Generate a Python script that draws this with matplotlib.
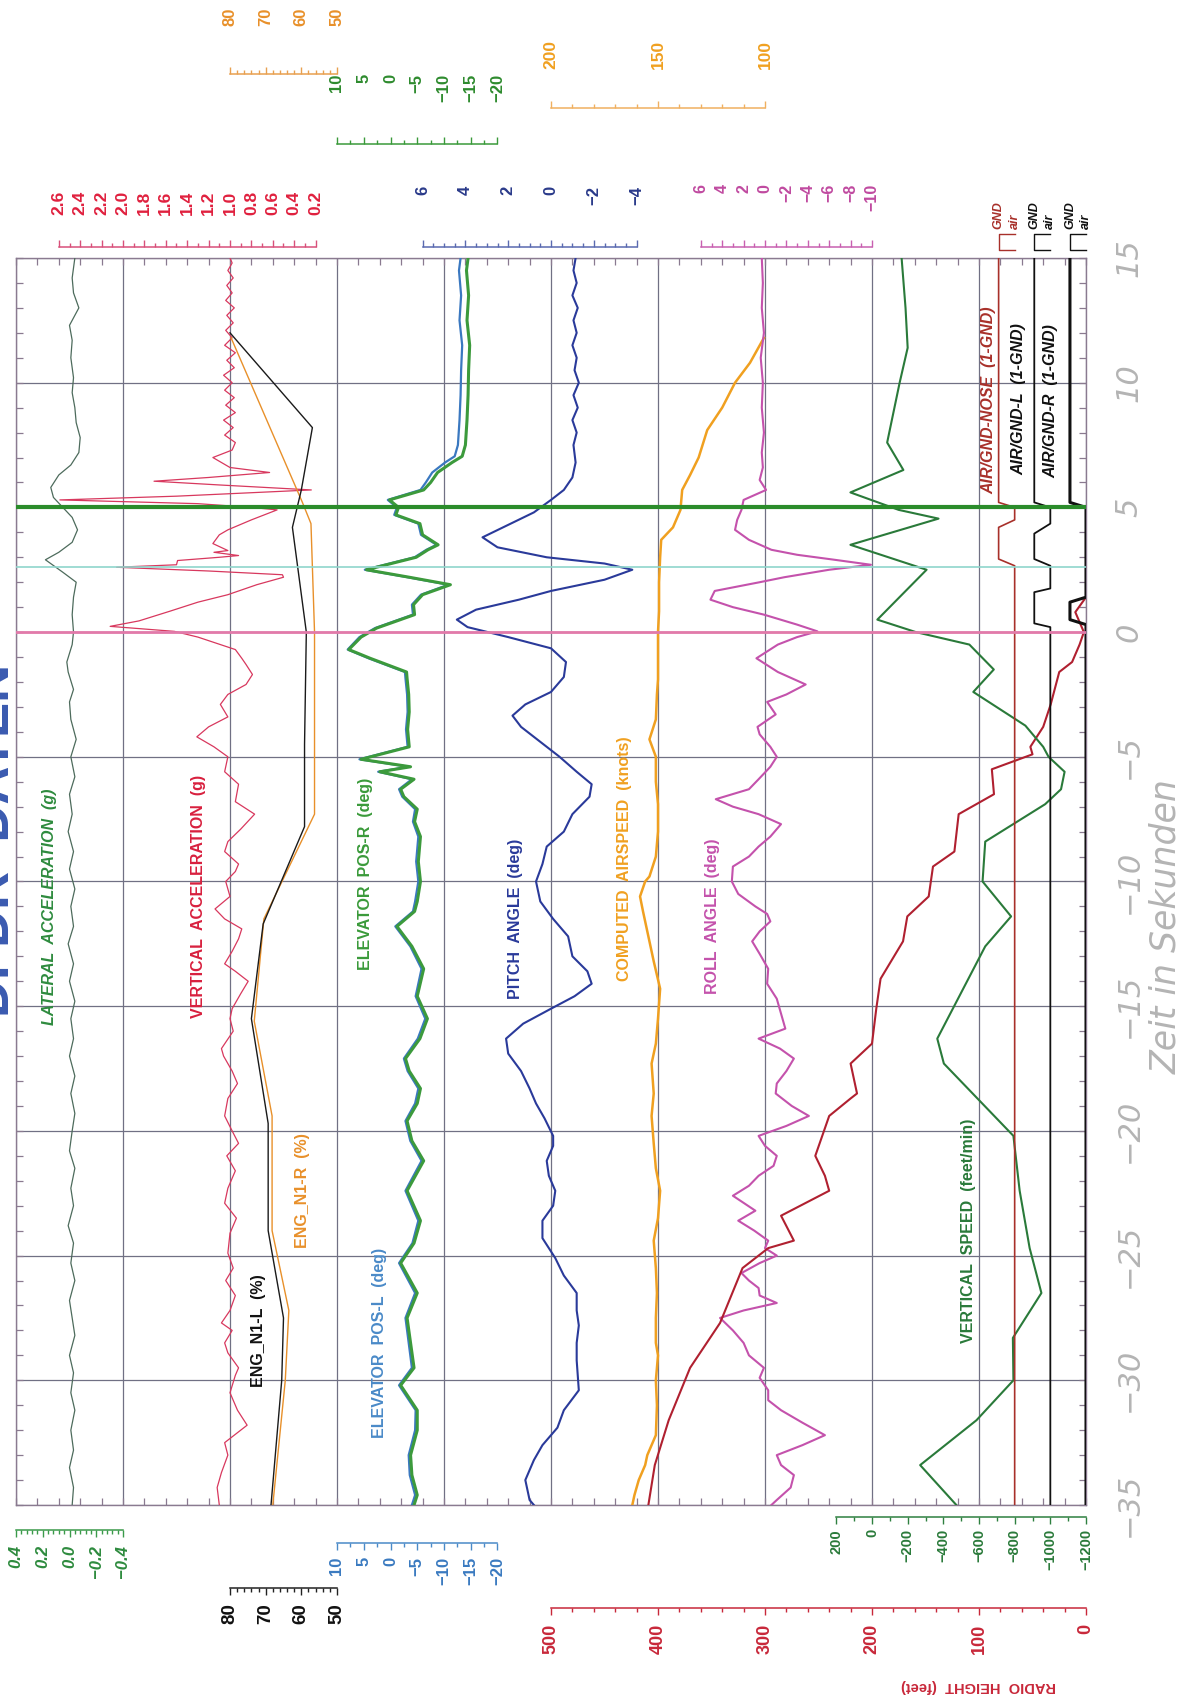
import numpy as np
import matplotlib.pyplot as plt
from matplotlib import transforms

# ---- recorded channels (time in seconds, 0 = touchdown) ----
lat_t = [-35, -34.3, -33.5, -32.8, -32, -31.2, -30.5, -29.7, -29, -28.2, -27.5, -26.8, -26, -25.3, -24.5,
         -23.8, -23, -22.3, -21.5, -20.8, -20, -19.3, -18.5, -17.8, -17, -16.3, -15.5, -14.8, -14, -13.3,
         -12.5, -11.8, -11, -10.3, -9.5, -8.8, -8, -7.3, -6.5, -5.8, -5, -4.3, -3.5, -2.8, -2.3, -1.6, -1.2,
         -0.5, 0, 0.7, 1.4, 2.0, 2.4, 2.9, 3.2, 3.6, 4.1, 4.6, 5.0, 5.4, 5.8, 6.3, 6.7, 7.2, 7.8, 8.4, 9.0,
         9.6, 10.2, 11, 11.7, 12.3, 13, 13.6, 14.2, 15]
lat_g = [-0.02, -0.03, 0.0, -0.03, -0.01, -0.04, -0.01, -0.03, 0.0, -0.04, -0.02, 0.0, -0.04, -0.01, -0.03,
         0.01, -0.03, -0.01, -0.04, 0.0, -0.02, -0.04, -0.01, -0.04, 0.0, -0.03, -0.01, -0.04, 0.0, -0.03,
         0.01, -0.03, -0.01, -0.04, 0.0, -0.03, 0.01, -0.02, 0.0, -0.04, -0.01, -0.05, -0.01, 0.0, -0.03,
         0.01, 0.02, -0.02, -0.03, -0.02, -0.03, -0.05, 0.05, 0.18, 0.08, -0.02, -0.06, -0.02, 0.05, 0.12,
         0.14, 0.08, -0.01, -0.07, -0.08, -0.05, -0.04, -0.02, -0.03, -0.01, -0.02, 0.0, -0.07, -0.03, -0.02,
         -0.04]

va_t = [-35, -34.3, -33.7, -33, -32.5, -31.8, -31.2, -30.5, -29.8, -29.5, -28.9, -28.5, -28, -27.7, -27.2,
        -26.6, -26, -25.5, -24.9, -24.1, -23.5, -22.9, -22.3, -21.6, -21, -20.5, -20, -19.4, -18.7, -18.1,
        -17.6, -17, -16.7, -16, -15.5, -15.1, -14.5, -14, -13.6, -13.3, -12.8, -12.3, -11.9, -11.5, -11.1,
        -10.6, -10, -9.6, -9.3, -8.8, -8.4, -7.9, -7.3, -6.8, -6.1, -5.6, -5, -4.6, -4.2, -3.8, -3.4, -2.9,
        -2.5, -2.1, -1.7, -1.3, -1.05, -0.7, -0.5, -0.2, 0.03, 0.23, 0.45, 0.84, 1.2, 1.5, 1.9, 2.2, 2.3,
        2.45, 2.6, 2.7, 2.87, 3.0, 3.07, 3.2, 3.27, 3.55, 3.9, 4.1, 4.5, 4.9, 5.0, 5.15, 5.3, 5.45, 5.7, 5.9,
        6.05, 6.2, 6.4, 6.6, 7.0, 7.3, 7.6, 7.9, 8.2, 8.5, 8.8, 9.1, 9.4, 9.7, 10, 10.3, 10.6, 10.9, 11.2,
        11.5, 11.8, 12.1, 12.4, 12.7, 13, 13.3, 13.6, 13.9, 14.2, 14.5, 14.8, 15]
va_g = [1.10, 1.12, 1.08, 1.02, 1.05, 0.84, 0.93, 1.00, 0.95, 0.92, 1.02, 1.05, 0.98, 1.08, 1.00, 0.95,
        1.04, 0.97, 1.02, 1.00, 0.94, 1.05, 1.02, 0.95, 1.03, 0.92, 0.98, 1.05, 1.02, 0.93, 0.98, 1.06,
        1.08, 0.97, 1.00, 0.98, 0.90, 0.83, 0.95, 1.05, 0.98, 0.92, 0.89, 1.05, 1.14, 1.00, 1.04, 0.95,
        0.92, 1.05, 1.02, 0.90, 0.77, 0.95, 0.92, 1.05, 1.02, 1.15, 1.31, 1.20, 1.02, 1.09, 1.02, 0.85,
        0.79, 0.85, 0.89, 0.95, 1.09, 1.30, 1.52, 2.12, 1.85, 1.56, 1.30, 1.02, 0.75, 0.50, 0.51, 1.20,
        2.06, 1.50, 1.49, 1.10, 0.92, 1.15, 1.02, 1.16, 1.10, 1.02, 0.80, 0.56, 0.80, 1.30, 2.59, 1.50,
        0.24, 1.10, 1.71, 1.20, 0.63, 1.00, 1.16, 0.98, 0.95, 1.05, 0.97, 1.06, 0.95, 1.04, 0.96, 1.05,
        0.98, 1.06, 0.96, 1.03, 0.95, 1.05, 0.98, 1.04, 0.97, 1.03, 0.96, 1.04, 0.98, 1.03, 0.97, 1.02,
        0.98, 1.00]

n1l_t = [-35, -30, -27.5, -24, -19.7, -15.5, -11.7, -7.8, -4.5, 0, 4.2, 5.7, 8.2, 12.0]
n1l = [68.5, 65.5, 65.0, 69.3, 69.3, 74.0, 70.7, 59.1, 59.1, 58.6, 62.5, 60.0, 56.9, 80.0]
n1r_t = [-35, -30, -27.2, -24, -19.4, -15.6, -11.5, -7.3, -2.5, 0, 4.35, 5.2, 11.8]
n1r = [68.0, 64.5, 63.5, 68.2, 68.2, 73.2, 70.5, 56.3, 56.3, 56.3, 57.3, 59.7, 79.7]

el_t = [-35, -34.6, -33.8, -33, -32, -31.2, -30.2, -29.5, -28.5, -27.5, -26.5, -25.3, -24.5, -23.6, -22.4,
        -21.2, -20.4, -19.6, -18.9, -18.3, -17.6, -17.1, -16.3, -15.5, -14.6, -13.5, -12.6, -11.8, -11.2,
        -10.8, -10.0, -9.2, -8.2, -7.6, -7.1, -6.6, -6.3, -5.9, -5.6, -5.4, -5.1, -4.6, -3.9, -3.2, -2.5,
        -1.86, -1.6, -1.05, -0.7, -0.2, 0.16, 0.7, 1.1, 1.5, 1.9, 2.2, 2.5, 3.0, 3.3, 3.5, 3.9, 4.35, 4.7,
        5.0, 5.3, 5.7, 6.0, 6.4, 6.8, 7.05, 7.5, 8.5, 9.5, 10.5, 11.5, 12.5, 13.5, 14.5, 15]
el_r = [-4.4, -5.0, -4.0, -3.75, -5.0, -5.0, -1.9, -4.4, -3.75, -3.1, -5.0, -1.9, -4.4, -5.6, -3.1, -6.2,
        -4.0, -3.1, -5.0, -5.6, -3.5, -2.8, -5.5, -6.9, -5.0, -6.2, -4.0, -1.2, -4.5, -5.0, -5.6, -5.2,
        -5.6, -4.5, -5.0, -2.5, -1.9, -4.4, 2.0, -3.75, 5.5, -3.5, -3.2, -3.5, -3.4, -3.1, -3.0, 3.8, 7.8,
        5.5, 2.6, -4.5, -4.3, -6.0, -11.2, -3.5, 4.5, -4.8, -7.0, -8.9, -6.0, -5.5, -1.0, -1.5, 0.2, -6.2,
        -7.5, -8.8, -11.5, -13.4, -14.0, -14.3, -14.5, -14.6, -14.8, -14.3, -14.6, -14.2, -14.5]
el_l = [-4.0, -4.6, -3.6, -3.4, -4.6, -4.7, -1.6, -4.0, -3.4, -2.8, -4.6, -1.6, -4.1, -5.2, -2.8, -5.8,
        -3.7, -2.8, -4.6, -5.2, -3.2, -2.5, -5.1, -6.5, -4.7, -5.8, -3.7, -0.9, -4.2, -4.6, -5.2, -4.8,
        -5.2, -4.2, -4.6, -2.2, -1.6, -4.0, 2.3, -3.4, 5.8, -3.2, -2.9, -3.2, -3.1, -2.8, -2.7, 4.1, 8.0,
        5.8, 2.9, -4.2, -4.0, -5.7, -10.8, -3.2, 4.8, -4.5, -6.7, -8.6, -5.7, -5.2, -0.7, -1.2, 0.5, -5.6,
        -6.6, -7.8, -10.2, -12.0, -12.6, -12.9, -13.1, -13.2, -13.4, -12.9, -13.2, -12.8, -13.1]

p_t = [-35, -34.8, -34, -33.2, -32.6, -31.9, -31.2, -30.4, -29.2, -28.5, -27.8, -27.2, -26.5, -25.8, -25.1,
       -24.3, -23.6, -23, -22.4, -21.8, -21.2, -20.6, -20.2, -19.5, -18.9, -18.3, -17.6, -16.9, -16.3,
       -15.7, -15.1, -14.6, -14.1, -13.6, -13, -12.2, -11.5, -10.8, -10.0, -9.3, -8.6, -8.0, -7.3, -6.6,
       -6.1, -5.6, -5.0, -4.4, -3.8, -3.35, -2.9, -2.4, -1.8, -1.2, -0.65, -0.2, 0.2, 0.5, 0.9, 1.3, 1.65,
       2.1, 2.5, 2.75, 3.0, 3.4, 3.8, 4.3, 4.8, 5.3, 5.7, 6.2, 6.8, 7.5, 8.0, 8.5, 9.0, 9.5, 10, 10.5, 11,
       11.5, 12, 12.5, 13, 13.5, 14, 14.5, 15]
p_deg = [0.8, 1.0, 1.2, 0.8, 0.4, -0.3, -0.6, -1.3, -1.2, -1.2, -1.3, -1.2, -1.2, -0.6, -0.2, 0.4, 0.4,
         -0.1, -0.2, 0.1, 0.2, -0.1, -0.1, 0.3, 0.7, 1.0, 1.4, 2.0, 2.1, 1.3, 0.0, -1.1, -1.9, -1.7, -1.0,
         -0.8, -0.1, 0.5, 0.7, 0.4, 0.2, -0.6, -1.0, -1.8, -1.9, -1.2, -0.4, 0.5, 1.4, 1.8, 1.2, 0.0, -0.6,
         -0.7, 0.0, 2.0, 3.9, 4.4, 3.5, 1.5, 0.0, -2.5, -3.8, -2.5, 0.2, 2.5, 3.2, 2.0, 0.8, 0.0, -0.6,
         -1.0, -1.15, -1.05, -1.2, -1.0, -1.25, -1.05, -1.3, -1.1, -1.2, -1.0, -1.2, -1.05, -1.25, -1.0,
         -1.2, -1.05, -1.15]

as_t = [-35, -34.6, -34, -33.4, -33, -32.2, -31, -30, -29, -28.5, -27.5, -26.5, -25.5, -24.4, -23.5, -22.4,
        -21.5, -20.5, -19.4, -18.5, -17.3, -16.5, -15.5, -14.3, -13.2, -12, -11.2, -10.6, -10, -9.8, -9, -8,
        -6.9, -6, -5, -4.3, -3.5, -2.5, -1.9, -1, 0, 0.84, 2, 3.0, 3.7, 4.2, 4.9, 5.7, 6.3, 7.0, 8.1, 9.0,
        10.0, 10.8, 11.8]
as_kt = [162, 161, 159, 156, 155, 151, 150.5, 151, 150, 151, 151, 150.5, 151, 152, 150, 149, 151, 152, 153,
         152, 153, 151, 150, 149, 152, 155, 157, 158.4, 156, 154, 151, 150, 150, 151, 151, 154, 151, 150.5,
         150, 150, 150, 149.5, 149.5, 149, 148.5, 143, 139.5, 138.7, 135, 131, 127, 120, 114, 107, 100.5]

r_t = [-35, -34.8, -34.3, -33.8, -33.4, -33, -32.6, -32.2, -31.7, -31.2, -30.8, -30.4, -29.9, -29.5, -29,
       -28.5, -28, -27.5, -27.2, -26.9, -26.6, -26.3, -26, -25.7, -25.3, -25, -24.7, -24.4, -24, -23.6,
       -23.2, -22.6, -22.2, -21.8, -21.4, -21, -20.6, -20.2, -19.8, -19.4, -19, -18.5, -18.1, -17.6, -17.1,
       -16.7, -16.3, -15.9, -15.3, -14.7, -14.1, -13.5, -12.9, -12.4, -12, -11.6, -11.3, -11, -10.5, -10,
       -9.4, -9, -8.6, -8.2, -7.7, -7.3, -7, -6.7, -6.3, -5.9, -5.4, -5, -4.6, -4.1, -3.8, -3.3, -2.8,
       -2.5, -2.1, -1.6, -1.05, -0.5, -0.2, 0.03, 0.3, 0.7, 1.0, 1.3, 1.65, 2.0, 2.2, 2.5, 2.7, 2.9, 3.1,
       3.3, 3.7, 4.1, 4.5, 4.9, 5.3, 5.7, 6.1, 6.6, 7.2, 8, 9, 10, 11, 12, 13, 14, 15]
r_deg = [-0.6, -1.1, -2.4, -2.7, -1.5, -1.1, -3.5, -5.6, -3.5, -1.5, -0.3, -0.3, 0.5, 0.1, 1.5, 2.0, 3.0,
         4.2, 2.0, -1.1, 0.5, 0.6, 1.5, 2.2, 0.5, -1.1, 0.0, -0.3, 1.0, 2.5, 0.9, 3.0, 1.5, 0.6, -0.8,
         -1.1, 0.0, 0.6, -2.0, -4.1, -2.5, -1.0, -1.1, -2.0, -2.7, -1.4, 0.6, -1.9, -1.5, -1.1, -0.2,
         -0.3, 0.5, 1.2, 0.5, -0.5, -0.2, 0.9, 2.5, 3.1, 3.0, 1.5, 0.6, -0.5, -1.5, 0.6, 3.0, 4.6, 1.5,
         0.6, -0.5, -1.1, -0.5, 0.5, 0.7, -1.0, -0.2, -2.0, -3.8, -1.2, 0.8, -1.2, -3.0, -4.9, -3.0, 0.1,
         3.0, 5.1, 4.7, 0.5, -1.8, -6.0, -9.9, -6.5, -3.0, -0.6, 1.5, 2.8, 2.6, 2.2, 2.0, -0.1, 0.5, 0.2,
         0.3, 0.1, 0.3, 0.2, 0.4, 0.1, 0.3, 0.2, 0.3]

rh_t = [-35, -33.4, -31.6, -29.5, -27.7, -25.5, -24.7, -24.4, -23.4, -22.4, -21.8, -21, -19.4, -18.7, -18.5,
        -17.3, -16.5, -15.1, -13.9, -12.4, -11.4, -10.6, -9.4, -8.8, -7.3, -6.5, -5.5, -4.9, -4.6, -3.8,
        -2.9, -1.6, -1.2, -0.5, 0, 0.8, 1.4, 4.0]
rh_ft = [409, 403, 390, 370, 342, 321, 297, 273, 285, 240, 244, 253, 240, 220, 214, 220, 200, 196, 192,
         171, 167, 147, 143, 123, 119, 86, 88, 50, 52, 40, 33, 25, 13, 6, 2, 10, 0, 0]

vs_t = [-35, -33.4, -31.6, -30, -28.3, -26.5, -24.7, -22.4, -20.2, -17.3, -16.3, -12.6, -11.4, -10, -8.4,
        -6.9, -6.3, -5.6, -5.0, -4.6, -3.75, -2.4, -1.5, -0.5, 0, 0.5, 2.5, 3.5, 4.55, 4.9, 5.6, 6.5, 7.6,
        10, 11.4, 13, 15]
vs_fpm = [-473, -270, -586, -793, -790, -950, -884, -828, -793, -403, -366, -635, -780, -620, -635, -971,
          -1060, -1080, -990, -960, -860, -568, -683, -546, -246, -30, -306, 121, -373, -150, 121, -176,
          -85, -155, -200, -188, -166]

# air/ground discretes, 1 = GND, 0 = air
nose_t = [-35, 2.66, 2.93, 4.2, 4.5, 5.0, 5.2, 15]
nose_v = [0, 0, 1, 1, 0, 0, 1, 1]
gl_t = [-35, 0.2, 0.35, 1.6, 1.75, 2.66, 2.93, 3.95, 4.35, 5.0, 5.2, 15]
gl_v = [0, 0, 1, 1, 0, 0, 1, 1, 0, 0, 1, 1]
gr_t = [-35, 0.3, 0.5, 1.2, 1.4, 5.0, 5.2, 15]
gr_v = [0, 0, 1, 1, 0, 0, 1, 1]

event_t = [5.0, 2.6, 0.0]
event_c = ['#2b8c2b', '#8fd6cc', '#e27aaa']
event_w = [3.0, 1.2, 2.0]

time_ticks = list(range(-35, 16, 5))

# ---- layout (pixels) ----
W, H = 1183, 1702
L, R, T, B = 16, 1086, 258, 1505
DIV = (R - L) / 10.0
GRID = '#707084'

plt.rcParams['font.family'] = ['Liberation Sans', 'DejaVu Sans']

fig = plt.figure(figsize=(W / 100, H / 100), dpi=100)
fig.patch.set_facecolor('white')
box = [L / W, 1 - B / H, (R - L) / W, (B - T) / H]

ax = fig.add_axes(box)
ax.set_xlim(0, 10)
ax.set_ylim(-35, 15)
ax.set_xticks(range(11))
ax.set_xticks(np.arange(0, 10.01, 0.2), minor=True)
ax.set_yticks(time_ticks)
ax.set_yticks(range(-35, 16), minor=True)
ax.tick_params(which='both', direction='in', top=True, right=True, length=5, width=0.9,
               color='#8a7a90', labelbottom=False, labelleft=False)
ax.grid(which='major', color=GRID, lw=0.9)
for s in ax.spines.values():
    s.set_color('#8a7a90')
    s.set_linewidth(1.0)


def channel(v_ref, d_ref, per_div):
    a = fig.add_axes(box, sharey=ax)
    a.set_xlim(v_ref - d_ref * per_div, v_ref + (10 - d_ref) * per_div)
    a.axis('off')
    return a


lims = {}
def chan(name, v_ref, d_ref, per_div):
    lims[name] = (v_ref, d_ref, per_div)
    return channel(v_ref, d_ref, per_div)


a = chan('lat', 0.4, 0, -0.8)
a.plot(lat_g, lat_t, color='#4d6b5c', lw=0.9)
a = chan('vacc', 1.0, 2, -1.0)
a.plot(va_g, va_t, color='#d8385e', lw=0.9)
a = chan('n1', 80, 2, -30)
a.plot(n1r, n1r_t, color='#e8902a', lw=1.0)
a.plot(n1l, n1l_t, color='#1a1a1a', lw=1.0)
a = chan('elev', 10, 3, -20)
a.plot(el_l, el_t, color='#3a78c0', lw=1.6)
a.plot(el_r, el_t, color='#3c9a3c', lw=2.2)
a = chan('pitch', 0, 5, -5)
a.plot(p_deg, p_t, color='#2a3a9a', lw=1.5)
a = chan('speed', 200, 5, -50)
a.plot(as_kt, as_t, color='#f0a020', lw=1.8)
a = chan('roll', 0, 7, -10)
a.plot(r_deg, r_t, color='#c452ac', lw=1.5)
a = chan('radio', 500, 5, -100)
a.plot(rh_ft, rh_t, color='#b02030', lw=1.5)
a = chan('vs', 0, 8, -600)
a.plot(vs_fpm, vs_t, color='#2a7a3a', lw=1.5)

gnd_specs = [(nose_t, nose_v, 9 + 1 / 3, '#a8302a', 1.2),
             (gl_t, gl_v, 9 + 2 / 3, '#111111', 1.3),
             (gr_t, gr_v, 10.0, '#111111', 2.2)]
for tt, vv, base, col, lw in gnd_specs:
    a = channel(0, base, -1 / 0.15)
    a.plot(vv, tt, color=col, lw=lw)

ev = fig.add_axes(box, sharey=ax)
ev.set_xlim(0, 10)
ev.axis('off')
for t0, c, w in zip(event_t, event_c, event_w):
    ev.axhline(t0, color=c, lw=w)

# ---- channel captions inside the plot ----
caps = [(0.31, -11.0, 'LATERAL  ACCELERATION  (g)', '#2e8b3e', 'italic'),
        (1.71, -10.6, 'VERTICAL  ACCELERATION  (g)', '#d8203e', 'normal'),
        (2.27, -28.0, 'ENG_N1-L  (%)', '#111111', 'normal'),
        (2.68, -22.4, 'ENG_N1-R  (%)', '#e8902a', 'normal'),
        (3.27, -9.7, 'ELEVATOR  POS-R  (deg)', '#3a9a3a', 'normal'),
        (3.40, -28.5, 'ELEVATOR  POS-L  (deg)', '#4a8ac8', 'normal'),
        (4.67, -11.5, 'PITCH  ANGLE  (deg)', '#2a3a9a', 'normal'),
        (5.69, -9.1, 'COMPUTED  AIRSPEED  (knots)', '#f0a020', 'normal'),
        (6.51, -11.4, 'ROLL  ANGLE  (deg)', '#c452ac', 'normal'),
        (8.90, -24.0, 'VERTICAL  SPEED  (feet/min)', '#2a7a3a', 'normal'),
        (9.09, 9.3, 'AIR/GND-NOSE  (1-GND)', '#a8302a', 'italic'),
        (9.37, 9.35, 'AIR/GND-L  (1-GND)', '#111111', 'italic'),
        (9.67, 9.25, 'AIR/GND-R  (1-GND)', '#111111', 'italic')]
for d, t0, txt, col, sty in caps:
    ev.text(d, t0, txt, rotation=90, ha='center', va='center', color=col,
            fontsize=11.5, fontweight='bold', fontstyle=sty)

# ---- time axis labels on the right ----
blend = transforms.blended_transform_factory(fig.transFigure, ax.transData)
for t0 in time_ticks:
    ax.text(1129 / W, t0, str(t0).replace('-', '\u2212'), transform=blend, rotation=90,
            ha='center', va='center', fontsize=22, fontstyle='italic', color='#b4b4b4',
            family='DejaVu Sans', clip_on=False)
ax.text(1166 / W, -11.8, 'Zeit in Sekunden', transform=blend, rotation=90, ha='center',
        va='center', fontsize=25, fontstyle='italic', color='#b4b4b4', family='DejaVu Sans',
        clip_on=False)


# ---- value scales above and below the plot ----
def scale(name, v0, v1, y_bar, y_lab, majors, minors, color, lab_color, top, size,
          italic=False, fmt=None):
    v_ref, d_ref, per_div = lims[name]
    d0 = d_ref + (v0 - v_ref) / per_div
    d1 = d_ref + (v1 - v_ref) / per_div
    x0 = L + d0 * DIV
    x1 = L + d1 * DIV
    s = fig.add_axes([x0 / W, 1 - y_bar / H, (x1 - x0) / W, 0.0001])
    s.set_xlim(v0, v1)
    s.patch.set_visible(False)
    s.yaxis.set_visible(False)
    for k in s.spines:
        s.spines[k].set_visible(False)
    side = 'top' if top else 'bottom'
    s.spines[side].set_visible(True)
    s.spines[side].set_color(color)
    s.spines[side].set_linewidth(1.1)
    s.xaxis.set_ticks_position(side)
    pad = (abs(y_lab - y_bar) - 7) * 0.72
    s.tick_params(axis='x', which='major', direction='out', length=5, width=1.0, color=color, pad=pad)
    s.tick_params(axis='x', which='minor', direction='out', length=2.8, width=1.0, color=color)
    s.set_xticks(minors, minor=True)
    labels = [(fmt or '{:g}').format(v).replace('-', '\u2212') for v in majors]
    s.set_xticks(majors, labels, rotation=90, va='top', ha='center', color=lab_color,
                 fontsize=size, fontweight='bold', fontstyle='italic' if italic else 'normal')
    return s


# top
scale('n1', 80, 50, 74, 8, [80, 70, 60, 50], np.arange(50, 80.1, 2), '#e8a050', '#e8902a', True, 12)
scale('elev', 10, -20, 144, 74, [10, 5, 0, -5, -10, -15, -20], np.arange(-20, 10.1, 2.5),
      '#3a9a3a', '#2e8b2e', True, 12)
scale('speed', 200, 100, 108, 40, [200, 150, 100], np.arange(100, 200.1, 10), '#f0b060', '#f0a020',
      True, 12.5)
scale('vacc', 2.6, 0.2, 247, 191, np.arange(2.6, 0.19, -0.2), np.arange(0.2, 2.61, 0.1),
      '#d8507a', '#e0203e', True, 12.5, fmt='{:.1f}')
scale('pitch', 6, -4, 247, 186, [6, 4, 2, 0, -2, -4], np.arange(-4, 6.1, 0.5), '#5a6ab0', '#2a3a8a',
      True, 12)
scale('roll', 6, -10, 247, 184, [6, 4, 2, 0, -2, -4, -6, -8, -10], np.arange(-10, 6.1, 1),
      '#c860b0', '#c04aa0', True, 11.5)
# bottom
scale('lat', 0.4, -0.4, 1530, 1545, [0.4, 0.2, 0.0, -0.2, -0.4], np.arange(-0.4, 0.41, 0.04),
      '#3a9a4a', '#2e8b3e', False, 12, italic=True, fmt='{:.1f}')
scale('vs', 200, -1200, 1517, 1529, np.arange(200, -1201, -200), np.arange(-1200, 201, 100),
      '#2e8040', '#2a7a3a', False, 10.5)
scale('elev', 10, -20, 1543, 1557, [10, 5, 0, -5, -10, -15, -20], np.arange(-20, 10.1, 2.5),
      '#4a8ac8', '#3a7ac0', False, 12)
scale('n1', 80, 50, 1588, 1603, [80, 70, 60, 50], np.arange(50, 80.1, 2), '#222222', '#111111',
      False, 13.5)
scale('radio', 500, 0, 1608, 1624, [500, 400, 300, 200, 100, 0], np.arange(0, 501, 20),
      '#c8283a', '#c8283a', False, 13)
fig.text((L + 9 * DIV) / W, 1 - 1686 / H, 'RADIO  HEIGHT  (feet)', rotation=180, ha='center',
         va='center', color='#c8283a', fontsize=10.5, fontweight='bold')

# ---- GND / air keys for the discretes ----
for tt, vv, base, col, lw in gnd_specs:
    k = fig.add_axes([box[0], 1 - 250 / H, box[2], 16 / H])
    k.set_xlim(0 - base * (-1 / 0.15), 0 + (10 - base) * (-1 / 0.15))
    k.set_ylim(0, 1)
    k.axis('off')
    k.plot([0, 1, 1, 0], [1, 1, 0, 0], color=col, lw=1.0, clip_on=False)
    k.text(1, 1.3, 'GND', rotation=90, ha='center', va='bottom', color=col, fontsize=9,
           fontweight='bold', fontstyle='italic', clip_on=False)
    k.text(0, 1.3, 'air', rotation=90, ha='center', va='bottom', color=col, fontsize=9,
           fontweight='bold', fontstyle='italic', clip_on=False)

# header, cut by the left edge as in the source sheet
fig.text(-0.004, 1 - 840 / H, 'DFDR  DATEN', rotation=90, ha='center', va='center', color='#3a5ab0',
         fontsize=38, fontweight='bold')

fig.savefig('out.png', dpi=100)
